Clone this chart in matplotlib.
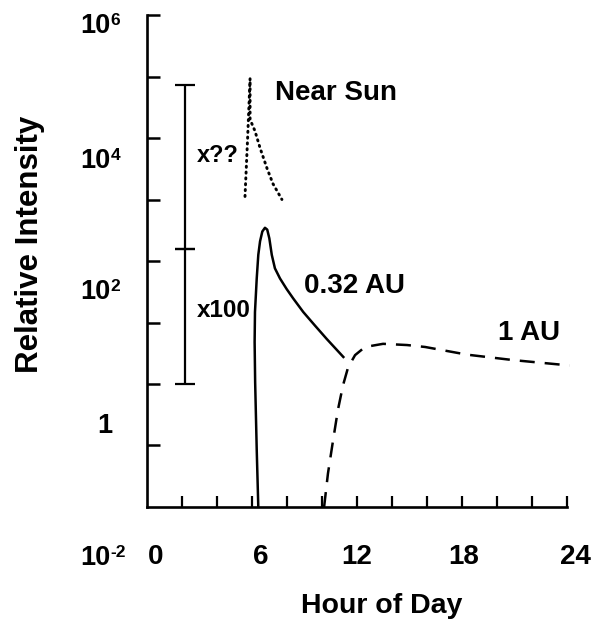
import numpy as np
import matplotlib
matplotlib.use("Agg")
import matplotlib.pyplot as plt
import matplotlib.transforms as mtransforms

plt.rcParams['font.family'] = ['Liberation Sans', 'DejaVu Sans']
plt.rcParams['font.weight'] = 'bold'

# near-Sun event (dotted)
near_sun_hr = [5.60, 5.75, 5.89, 5.89, 6.17, 6.46, 6.86, 7.20, 7.71]
near_sun_val = [1120, 1.0e4, 9.3e4, 2.0e4, 1.3e4, 6.9e3, 3.2e3, 1.8e3, 1.0e3]

# 0.32 AU (solid)
au032_hr = [6.36, 6.27, 6.18, 6.15, 6.17, 6.27, 6.36, 6.46, 6.59, 6.74, 6.87,
            6.99, 7.13, 7.31, 7.60, 7.98, 8.36, 8.93, 9.60, 10.27, 11.22]
au032_val = [0.01, 0.085, 1.07, 4.8, 14.8, 52, 126, 209, 302, 347, 324,
             234, 126, 76, 52, 35, 24.5, 14.8, 8.9, 5.4, 2.75]

# 1 AU (dashed)
au1_hr = [10.12, 10.34, 10.63, 10.91, 11.20, 11.49, 11.89, 12.46, 13.49,
          14.86, 15.89, 18.29, 20.91, 24.15]
au1_val = [0.01, 0.035, 0.12, 0.38, 0.95, 1.86, 2.95, 4.0, 4.5,
           4.3, 4.0, 3.0, 2.45, 2.0]

# scale bars: x100 (lower) and x?? (upper)
bar_hr = 2.17
bar_low, bar_mid, bar_high = 1.0, 155.0, 7.4e4

ytick_vals = [1e-1, 1, 1e1, 1e2, 1e3, 1e4, 1e5, 1e6]
ylabel_base = ['10', '10', '10', '1', '10']
ylabel_exp = ['6', '4', '2', '', '-2']
ylabel_pos = [10**5.705, 10**3.51, 10**1.385, 10**-0.79, 10**-2.95]
xtick_vals = list(range(2, 25, 2))
xlabel_texts = ['0', '6', '12', '18', '24']
xlabel_pos = [0.5, 6.5, 12.0, 18.1, 24.5]

fig = plt.figure(figsize=(6.0, 6.21), dpi=100)
ax = fig.add_axes([0.245, 0.1836, 0.70, 0.7922])
ax.set_yscale('log')
ax.set_xlim(0, 24)
ax.set_ylim(1e-2, 1e6)

for s in ['top', 'right']:
    ax.spines[s].set_visible(False)
for s in ['left', 'bottom']:
    ax.spines[s].set_linewidth(1.9)

ax.set_yticks(ytick_vals)
ax.set_yticklabels([])
ax.yaxis.set_minor_locator(matplotlib.ticker.NullLocator())
ax.set_xticks(xtick_vals)
ax.set_xticklabels([])
ax.tick_params(axis='y', direction='in', length=9, width=1.8)
ax.tick_params(axis='x', direction='in', length=8, width=1.6)

ax.plot(near_sun_hr, near_sun_val, color='black', lw=2.1,
        linestyle=(0, (0.4, 1.6)), dash_capstyle='round')
ax.plot(au032_hr, au032_val, color='black', lw=1.8, solid_joinstyle='round')
ax.plot(au1_hr, au1_val, color='black', lw=1.8,
        linestyle=(0, (6.0, 4.0)), clip_on=False)

# scale bars
ax.errorbar([bar_hr], [bar_mid], yerr=[[bar_mid - bar_low], [0]],
            fmt='none', ecolor='black', elinewidth=1.6, capsize=7, capthick=1.6)
ax.errorbar([bar_hr], [bar_mid], yerr=[[0], [bar_high - bar_mid]],
            fmt='none', ecolor='black', elinewidth=1.6, capsize=7, capthick=1.6)

ax.text(2.86, 10**3.71, 'x??', fontsize=17, fontweight='bold', va='center', ha='left')
ax.text(2.86, 10**1.19, 'x100', fontsize=17.5, fontweight='bold', va='center', ha='left')
ax.text(7.31, 10**4.74, 'Near Sun', fontsize=20, fontweight='bold', va='center', ha='left')
ax.text(8.97, 10**1.60, '0.32 AU', fontsize=20, fontweight='bold', va='center', ha='left')
ax.text(20.06, 10**0.83, '1 AU', fontsize=20, fontweight='bold', va='center', ha='left')

# y tick labels, written as base + raised exponent
ytrans = mtransforms.blended_transform_factory(ax.transAxes, ax.transData)
sup_shift = mtransforms.ScaledTranslation(0, 8 / 100, fig.dpi_scale_trans)
for base, expo, pos in zip(ylabel_base, ylabel_exp, ylabel_pos):
    if expo:
        ax.text(-0.088, pos, base, transform=ytrans, fontsize=19.5,
                fontweight='bold', ha='right', va='baseline', clip_on=False)
        ax.text(-0.087, pos, expo, transform=ytrans + sup_shift, fontsize=12.5,
                fontweight='bold', ha='left', va='baseline', clip_on=False)
    else:
        ax.text(-0.100, pos, base, transform=ytrans, fontsize=19.5,
                fontweight='bold', ha='center', va='baseline', clip_on=False)

xtrans = mtransforms.blended_transform_factory(ax.transData, ax.transAxes)
for lab, pos in zip(xlabel_texts, xlabel_pos):
    ax.text(pos, -0.102, lab, transform=xtrans, fontsize=20, fontweight='bold',
            ha='center', va='center', clip_on=False)

fig.text(0.636, 0.013, 'Hour of Day', fontsize=20.5, fontweight='bold',
         ha='center', va='baseline')
fig.text(0.05, 0.607, 'Relative Intensity', fontsize=22.5, fontweight='bold',
         ha='center', va='center', rotation=90)

fig.savefig('out.png', dpi=100)
